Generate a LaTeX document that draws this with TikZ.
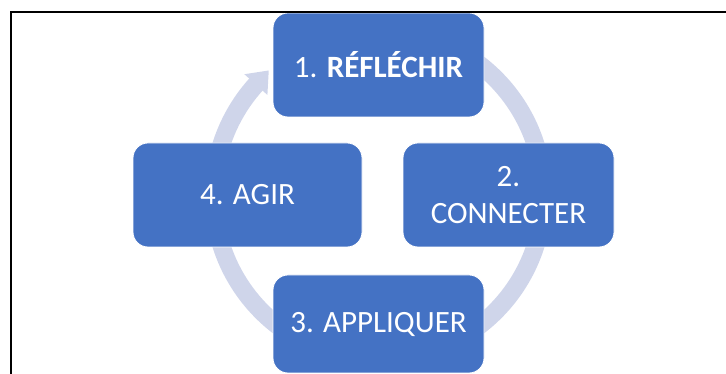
\documentclass[tikz,border=0pt]{standalone}
\usepackage{fontspec}
\setmainfont{Carlito}
\usetikzlibrary{calc}
\definecolor{boxblue}{HTML}{4472C4}
\definecolor{ringblue}{HTML}{CFD5EA}
\begin{document}
\begin{tikzpicture}[x=1pt,y=1pt,
  stepbox/.style={draw=white, line width=0.8pt, fill=boxblue, rounded corners=15pt,
    text=white, inner sep=0pt, align=center, font=\fontsize{31}{37}\selectfont,
    minimum height=104pt, minimum width=211pt},
  ring/.style={draw=ringblue, line width=18pt}]
\useasboundingbox (0,0) rectangle (726,374);
\coordinate (c) at (378.5,179);
% ring segments
\draw[ring] ($(c)+(60:165pt)$) arc[start angle=60, end angle=10, radius=165pt];
\draw[ring] ($(c)+(-10:165pt)$) arc[start angle=-10, end angle=-60, radius=165pt];
\draw[ring] ($(c)+(-120:165pt)$) arc[start angle=-120, end angle=-170, radius=165pt];
\draw[ring] ($(c)+(170:165pt)$) arc[start angle=170, end angle=137.5, radius=165pt];
\fill[ringblue] ($(c)+(138:180.5pt)$) -- ($(c)+(131.4:166pt)$) -- ($(c)+(138:149.5pt)$) -- cycle;
% boxes
\node[stepbox] (b1) at (378.5,309) {1. \textbf{RÉFLÉCHIR}};
\node[stepbox] (b2) at (508.5,179) {2.\\CONNECTER};
\node[stepbox, minimum height=98pt] (b3) at (378.5,50) {3. APPLIQUER};
\node[stepbox, minimum width=229pt] (b4) at (247.5,179) {4. AGIR};
% frame
\draw[line width=2pt] (10.5,0) -- (10.5,362) -- (726,362);
\end{tikzpicture}
\end{document}
